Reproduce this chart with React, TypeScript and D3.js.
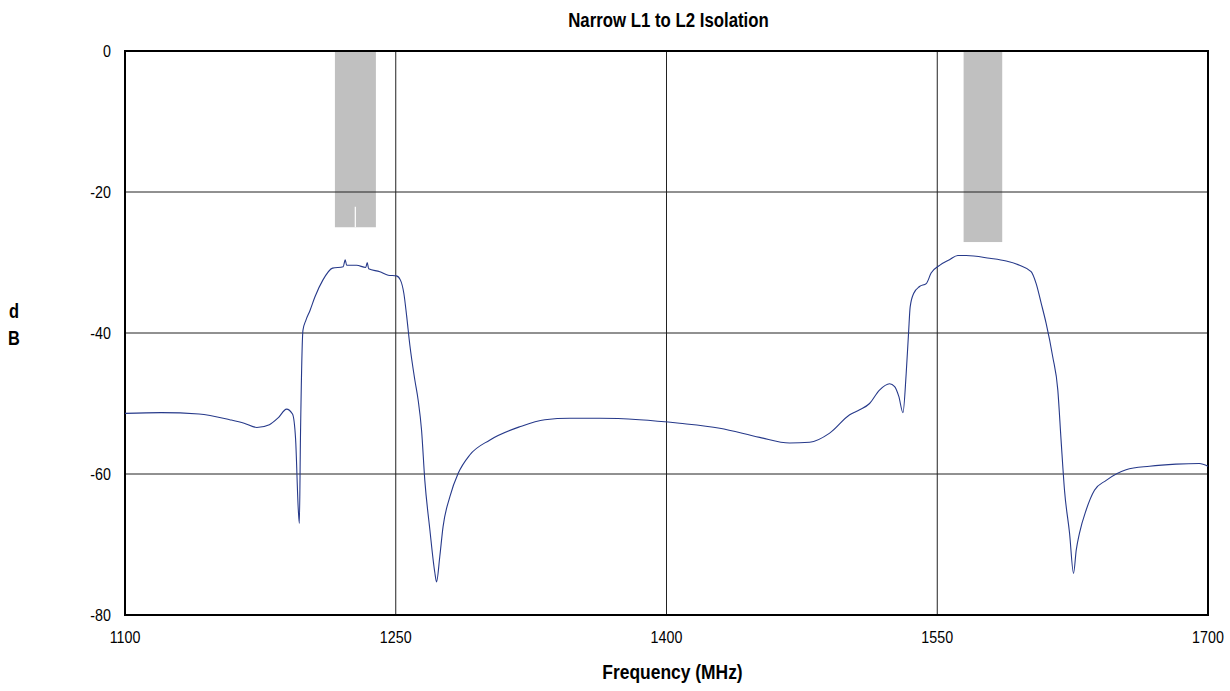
import * as d3 from 'd3';
import { useEffect, useRef } from 'react';

// trace (MHz, dB)
const freq = [
  1100, 1120, 1141, 1158, 1166, 1173, 1180, 1185, 1189.5, 1192.8, 1194.5, 1196, 1196.6, 1197.2, 1198.6, 1200.2,
  1202.5, 1205.2, 1209.6, 1215, 1220.9, 1222, 1222.8, 1228.3, 1233.4, 1234.2, 1235, 1241.2, 1245.8, 1250.4, 1252.6,
  1254.5, 1256, 1257.8, 1260.6, 1262.4, 1264.3, 1266.1, 1268.9, 1271.6, 1272.6, 1274.4, 1276.2, 1280, 1284.6, 1291,
  1302, 1318.7, 1332.6, 1346.4, 1363, 1385, 1407.3, 1429.5, 1451.6, 1468.2, 1479.3, 1490.4, 1501.5, 1507, 1512.5,
  1518, 1523.6, 1526.4, 1528.7, 1531, 1532.8, 1534.1, 1535, 1536.9, 1540.2, 1543.9, 1546.6, 1551.3, 1556.8, 1561.4,
  1566, 1579, 1588.2, 1595.6, 1602, 1604.8, 1607.6, 1610.3, 1614, 1616.8, 1618.6, 1620.5, 1623.3, 1625.5, 1627,
  1628.8, 1632.5, 1637.1, 1643.6, 1654.6, 1667.6, 1682.3, 1695.2, 1700,
];
const db = [
  -51.4, -51.3, -51.5, -52.3, -52.8, -53.4, -53.0, -52.0, -50.8, -51.5, -55.0, -65.0, -67.0, -55.0, -39.6, -38.2,
  -36.8, -34.9, -32.5, -30.8, -30.6, -29.6, -30.4, -30.4, -30.7, -30.0, -30.9, -31.3, -31.8, -31.9, -32.5,
  -34.4, -37.5, -41.7, -46.7, -49.5, -53.8, -60.9, -67.9, -73.9, -75.3, -71.7, -67.5, -63.2, -59.9, -57.3,
  -55.2, -53.3, -52.3, -52.1, -52.1, -52.3, -52.8, -53.5, -54.8, -55.6, -55.5, -54.2, -51.6, -50.9, -50.0,
  -48.1, -47.2, -47.6, -49.0, -51.3, -45.7, -40.0, -36.3, -34.4, -33.4, -33.0, -31.5, -30.4, -29.6, -29.0,
  -29.0, -29.4, -29.8, -30.4, -31.3, -33.0, -35.8, -38.6, -43.4, -48.1, -55.2, -62.3, -68.4, -74.1, -70.8,
  -68.4, -65.1, -62.3, -60.9, -59.4, -58.9, -58.6, -58.5, -58.9,
];

// shaded pass bands (MHz start, end, lower dB edge)
const bandStart = [1216.3, 1564.6];
const bandEnd = [1239.0, 1586.0];
const bandBottom = [-25, -27.1];
const notchFreq = 1227.6;
const notchTop = -22.1;

const xTicks = [1100, 1250, 1400, 1550, 1700];
const yTicks = [0, -20, -40, -60, -80];

const App = () => {
  const ref = useRef<SVGSVGElement>(null);

  useEffect(() => {
    const width = 1230;
    const height = 691;
    const margin = { top: 51, right: 22, bottom: 76, left: 125 };
    const font = "'Liberation Sans', Arial, sans-serif";

    const svg = d3.select(ref.current);
    svg.selectAll('*').remove();
    svg.attr('width', width).attr('height', height);

    const x = d3.scaleLinear().domain([1100, 1700]).range([margin.left, width - margin.right]);
    const y = d3.scaleLinear().domain([-80, 0]).range([height - margin.bottom, margin.top]);

    // text is narrow in the original, so squeeze it horizontally
    const label = (tx: number, ty: number, s: string | number, size: number, anchor: string, bold = false, sx = 0.84) =>
      svg.append('text')
        .attr('transform', `translate(${tx},${ty}) scale(${sx},1)`)
        .attr('text-anchor', anchor)
        .attr('font-family', font).attr('font-size', size)
        .attr('font-weight', bold ? 'bold' : 'normal')
        .attr('fill', '#000')
        .text(s);

    // bands
    bandStart.forEach((s, i) => {
      svg.append('rect')
        .attr('x', x(s)).attr('y', y(0))
        .attr('width', x(bandEnd[i]) - x(s))
        .attr('height', y(bandBottom[i]) - y(0))
        .attr('fill', '#c0c0c0');
    });
    svg.append('line')
      .attr('x1', x(notchFreq)).attr('x2', x(notchFreq))
      .attr('y1', y(notchTop)).attr('y2', y(bandBottom[0]))
      .attr('stroke', '#fff').attr('stroke-width', 1.2);

    // grid
    const grid = svg.append('g').attr('stroke', '#222').attr('stroke-width', 1);
    xTicks.slice(1, -1).forEach(t => {
      grid.append('line').attr('x1', x(t)).attr('x2', x(t)).attr('y1', y(0)).attr('y2', y(-80));
    });
    yTicks.slice(1, -1).forEach(t => {
      grid.append('line').attr('x1', x(1100)).attr('x2', x(1700)).attr('y1', y(t)).attr('y2', y(t));
    });

    // frame
    svg.append('rect')
      .attr('x', x(1100)).attr('y', y(0))
      .attr('width', x(1700) - x(1100)).attr('height', y(-80) - y(0))
      .attr('fill', 'none').attr('stroke', '#000').attr('stroke-width', 2);

    // trace
    const pts = freq.map((f, i) => [f, db[i]] as [number, number]);
    const line = d3.line<[number, number]>().x(d => x(d[0])).y(d => y(d[1])).curve(d3.curveMonotoneX);
    svg.append('path')
      .attr('d', line(pts))
      .attr('fill', 'none')
      .attr('stroke', '#26398a')
      .attr('stroke-width', 1.1);

    // tick labels
    yTicks.forEach(t => label(margin.left - 14, y(t) + 6, t, 17, 'end'));
    xTicks.forEach(t => label(x(t), height - margin.bottom + 28, t, 17, 'middle'));

    // titles
    const cx = (x(1100) + x(1700)) / 2 + 2;
    label(cx, 26.5, 'Narrow L1 to L2 Isolation', 21, 'middle', true, 0.8);
    label(cx + 4, 679, 'Frequency (MHz)', 21, 'middle', true, 0.83);
    label(14, 318, 'd', 20, 'middle', true, 0.82);
    label(14, 345, 'B', 20, 'middle', true, 0.82);
  }, []);

  return (
    <div style={{ position: 'absolute', left: 0, top: 0 }}>
      <svg ref={ref}></svg>
    </div>
  );
};

export default App;
